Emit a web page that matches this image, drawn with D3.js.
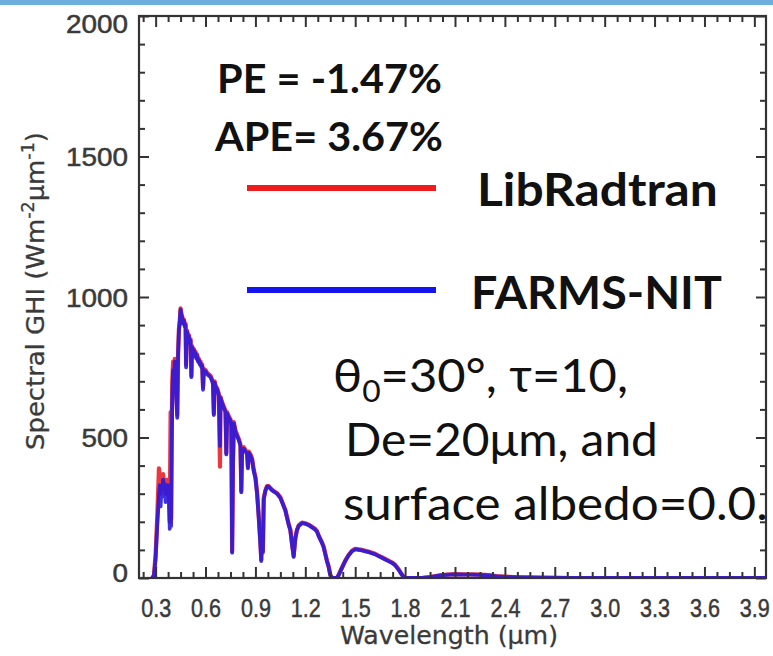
<!DOCTYPE html>
<html>
<head>
<meta charset="utf-8">
<script src="https://cdn.jsdelivr.net/npm/d3@7"></script>
<style>
  html, body { margin: 0; padding: 0; background: #fff; overflow: hidden; }
  svg { display: block; }
</style>
</head>
<body>
<svg id="chart" width="773" height="656"></svg>
<script>
// Spectral GHI (W m^-2 um^-1) versus wavelength (um) for the two models
const wavelength = [
  0.28, 0.29, 0.30, 0.31, 0.32, 0.325, 0.33, 0.335, 0.34, 0.345, 0.35, 0.355, 0.36, 0.365, 0.37, 0.375, 0.38, 0.385, 0.39, 0.393, 0.397, 0.40,
  0.405, 0.41, 0.415, 0.42, 0.425, 0.43, 0.435, 0.44, 0.445, 0.45, 0.455, 0.46, 0.465, 0.47, 0.475, 0.48, 0.483, 0.486, 0.49, 0.495, 0.50, 0.505, 0.51, 0.515, 0.518, 0.52, 0.525, 0.53, 0.535, 0.54, 0.545, 0.55, 0.555, 0.56, 0.565, 0.57, 0.575, 0.58, 0.585, 0.59, 0.595, 0.60,
  0.61, 0.62, 0.63, 0.64, 0.645, 0.65, 0.655, 0.66, 0.67, 0.68, 0.687, 0.69, 0.70, 0.71, 0.72, 0.725, 0.73, 0.74, 0.75, 0.755, 0.76, 0.765, 0.77, 0.78, 0.79, 0.80, 0.81, 0.815, 0.82, 0.83, 0.84, 0.85, 0.855, 0.86, 0.87, 0.88, 0.89, 0.90,
  0.91, 0.92, 0.93, 0.935, 0.94, 0.945, 0.95, 0.96, 0.97, 0.98, 0.99, 1.00, 1.01, 1.03, 1.05, 1.07, 1.08, 1.09, 1.10, 1.11, 1.12, 1.13, 1.14, 1.15, 1.16, 1.18, 1.20, 1.22, 1.24, 1.26, 1.27, 1.28, 1.30, 1.31, 1.32, 1.33, 1.34, 1.35, 1.36, 1.38,
  1.39, 1.40, 1.42, 1.44, 1.46, 1.48, 1.50, 1.52, 1.54, 1.56, 1.58, 1.60, 1.62, 1.64, 1.66, 1.68, 1.70, 1.72, 1.74, 1.76, 1.78, 1.79, 1.80, 1.85, 1.90, 1.95, 2.00, 2.05, 2.10, 2.15, 2.20, 2.25, 2.30, 2.35, 2.40, 2.45, 2.50, 2.60, 2.80, 3.00, 3.20, 3.40, 3.60, 3.80, 4.00
];

const libRadtran = [
  0, 10, 85, 220, 390, 360, 300, 340, 330, 370, 320, 350, 300, 340, 330, 350, 310, 200, 590, 210, 560, 700,
  770, 720, 780, 740, 650, 580, 800, 885, 915, 960, 940, 930, 910, 920, 900, 905, 760, 865, 880, 855, 865, 840, 850, 720, 805, 825, 805, 815, 795, 805, 785, 795, 775, 780, 765, 770, 755, 760, 680, 745, 735, 740,
  730, 725, 720, 705, 695, 585, 700, 685, 675, 655, 396, 645, 625, 610, 595, 445, 590, 575, 565, 545, 95, 410, 555, 525, 510, 495, 475, 310, 460, 465, 455, 445, 395, 450, 440, 425, 385, 360,
  305, 220, 125, 65, 155, 95, 285, 312, 327, 327, 320, 314, 310, 302, 287, 257, 242, 217, 192, 172, 122, 78, 142, 172, 187, 197, 195, 190, 182, 174, 167, 152, 127, 112, 87, 62, 42, 12, 0, 0,
  0, 11, 37, 62, 82, 97, 104, 102, 100, 97, 94, 90, 86, 80, 74, 68, 62, 56, 47, 32, 13, 5, 0, 0, 0, 3, 9, 12, 14, 13, 13, 12, 10, 7, 5, 3, 2, 1, 0, 0, 0, 0, 0, 0, 0
];

const farmsNit = [
  0, 8, 70, 190, 290, 330, 255, 320, 300, 350, 290, 335, 270, 320, 300, 330, 280, 175, 330, 185, 480, 630,
  740, 700, 770, 730, 640, 570, 790, 880, 910, 955, 935, 925, 905, 915, 895, 900, 750, 860, 875, 850, 860, 835, 845, 715, 800, 820, 800, 810, 790, 800, 780, 790, 770, 775, 760, 765, 750, 755, 670, 740, 730, 735,
  725, 720, 715, 700, 690, 580, 695, 680, 670, 650, 470, 640, 620, 605, 590, 440, 585, 570, 560, 540, 90, 400, 550, 520, 505, 490, 470, 305, 455, 460, 450, 440, 390, 445, 435, 420, 380, 355,
  300, 215, 120, 60, 150, 90, 280, 310, 325, 325, 318, 312, 308, 300, 285, 255, 240, 215, 190, 170, 120, 75, 140, 170, 185, 195, 193, 188, 180, 172, 165, 150, 125, 110, 85, 60, 40, 10, 0, 0,
  0, 10, 35, 60, 80, 95, 102, 100, 98, 95, 92, 88, 84, 78, 72, 66, 60, 54, 45, 30, 12, 4, 0, 0, 0, 3, 8, 11, 13, 12, 12, 11, 9, 6, 4, 3, 2, 1, 0, 0, 0, 0, 0, 0, 0
];

const xTickValues = [0.3, 0.6, 0.9, 1.2, 1.5, 1.8, 2.1, 2.4, 2.7, 3.0, 3.3, 3.6, 3.9];
const xTickLabels = ["0.3", "0.6", "0.9", "1.2", "1.5", "1.8", "2.1", "2.4", "2.7", "3.0", "3.3", "3.6", "3.9"];
const yTickValues = [0, 500, 1000, 1500, 2000];
const yTickLabels = ["0", "500", "1000", "1500", "2000"];

const seriesNames = ["LibRadtran", "FARMS-NIT"];
const seriesColors = ["#ee1c1c", "#1414f0"];
const curveColors = ["#e8222a", "#2a1ae0"];
const statLines = ["PE = -1.47%", "APE= 3.67%"];

// ---------------------------------------------------------------------------
const svg = d3.select("#chart");
const W = 773, H = 656;
const plot = { left: 139, top: 16, right: 766, bottom: 578 };

svg.append("rect").attr("width", W).attr("height", H).attr("fill", "#fff");
// thin accent band along the top edge
svg.append("rect").attr("x", 0).attr("y", 0).attr("width", W).attr("height", 5).attr("fill", "#6cafdc");

const x = d3.scaleLinear().domain([0.2, 3.97]).range([plot.left, plot.right]);
const y = d3.scaleLinear().domain([0, 2000]).range([plot.bottom, plot.top]);

// horizontal stretch so that a text's advance width equals a target
function stretch(textSel, width) {
  const w = textSel.node().getComputedTextLength();
  return w > 0 ? width / w : 1;
}

// ---- curves ---------------------------------------------------------------
svg.append("clipPath").attr("id", "plotClip")
  .append("rect")
  .attr("x", plot.left).attr("y", plot.top)
  .attr("width", plot.right - plot.left).attr("height", plot.bottom - plot.top);

const line = d3.line()
  .x((d, i) => x(wavelength[i]))
  .y(d => y(d));

const curves = svg.append("g").attr("clip-path", "url(#plotClip)");
[libRadtran, farmsNit].forEach((vals, k) => {
  curves.append("path")
    .datum(vals)
    .attr("d", line)
    .attr("fill", "none")
    .attr("stroke", curveColors[k])
    .attr("stroke-width", k === 0 ? 4.2 : 3.8)
    .attr("stroke-linejoin", "round")
    .attr("stroke-linecap", "round")
    .attr("opacity", 0.9);
});

// ---- axes (ticks pointing inward on all four sides) -------------------------
const xMinor = d3.range(0.225, 3.97, 0.075).filter(v => Math.abs(v / 0.3 - Math.round(v / 0.3)) > 1e-6);
const yMinor = d3.range(100, 2000, 100).filter(v => v % 500 !== 0);
const axisColor = "#333";

function styleAxis(g) {
  g.select(".domain").remove();
  g.selectAll("line").attr("stroke", axisColor).attr("stroke-width", 2);
}

// bottom
svg.append("g").attr("transform", `translate(0,${plot.bottom})`)
  .call(d3.axisBottom(x).tickValues(xMinor).tickSize(-6).tickFormat(""))
  .call(styleAxis);
const xAxisG = svg.append("g").attr("transform", `translate(0,${plot.bottom})`)
  .call(d3.axisBottom(x).tickValues(xTickValues).tickSize(-11)
    .tickFormat((d, i) => xTickLabels[i]))
  .call(styleAxis);
// top
svg.append("g").attr("transform", `translate(0,${plot.top})`)
  .call(d3.axisTop(x).tickValues(xMinor).tickSize(-6).tickFormat(""))
  .call(styleAxis);
svg.append("g").attr("transform", `translate(0,${plot.top})`)
  .call(d3.axisTop(x).tickValues(xTickValues).tickSize(-11).tickFormat(""))
  .call(styleAxis);
// left
svg.append("g").attr("transform", `translate(${plot.left},0)`)
  .call(d3.axisLeft(y).tickValues(yMinor).tickSize(-6).tickFormat(""))
  .call(styleAxis);
const yAxisG = svg.append("g").attr("transform", `translate(${plot.left},0)`)
  .call(d3.axisLeft(y).tickValues(yTickValues).tickSize(-10)
    .tickFormat((d, i) => yTickLabels[i]))
  .call(styleAxis);
// right
svg.append("g").attr("transform", `translate(${plot.right},0)`)
  .call(d3.axisRight(y).tickValues(yMinor).tickSize(-6).tickFormat(""))
  .call(styleAxis);
svg.append("g").attr("transform", `translate(${plot.right},0)`)
  .call(d3.axisRight(y).tickValues(yTickValues).tickSize(-10).tickFormat(""))
  .call(styleAxis);

// frame
svg.append("rect")
  .attr("x", plot.left).attr("y", plot.top)
  .attr("width", plot.right - plot.left).attr("height", plot.bottom - plot.top)
  .attr("fill", "none").attr("stroke", axisColor).attr("stroke-width", 2.2);

// tick label styling
const tickFont = "'Liberation Sans', Arial, sans-serif";
const xLabels = xAxisG.selectAll(".tick text")
  .style("font-family", tickFont).style("font-size", "26px")
  .attr("fill", "#3a3a3a").attr("stroke", "#3a3a3a").attr("stroke-width", 0.5)
  .attr("dy", null).attr("y", 39)
  .attr("text-anchor", "middle");
const xs = stretch(xAxisG.select(".tick text"), 30);
xLabels.attr("transform", `scale(${xs},1)`);

const yLabels = yAxisG.selectAll(".tick text")
  .style("font-family", tickFont).style("font-size", "25px")
  .attr("fill", "#3a3a3a").attr("stroke", "#3a3a3a").attr("stroke-width", 0.5)
  .attr("dy", null).attr("x", 0).attr("y", 0)
  .attr("text-anchor", "end");
const widest = yAxisG.selectAll(".tick text").filter((d) => d === 2000);
const ys = stretch(widest, 62);
yLabels.attr("transform", d => {
  const nudge = d === 2000 ? 7 : (d === 0 ? -6 : 0);
  return `translate(-11,${9 + nudge}) scale(${ys},1)`;
});

// axis titles
const titleFont = "'DejaVu Sans', sans-serif";
const xTitle = svg.append("text")
  .style("font-family", titleFont).style("font-size", "25px").attr("fill", "#3a3a3a")
  .attr("stroke", "#3a3a3a").attr("stroke-width", 0.3)
  .attr("text-anchor", "middle")
  .text("Wavelength (\u03BCm)");
xTitle.attr("transform", `translate(449,644) scale(${stretch(xTitle, 218)},1)`);

const yTitle = svg.append("text")
  .style("font-family", titleFont).style("font-size", "25px").attr("fill", "#3a3a3a")
  .attr("stroke", "#3a3a3a").attr("stroke-width", 0.3)
  .attr("text-anchor", "middle");
yTitle.append("tspan").text("Spectral GHI (Wm");
yTitle.append("tspan").style("font-size", "17px").attr("dy", -10).text("-2");
yTitle.append("tspan").attr("dy", 10).text("\u03BCm");
yTitle.append("tspan").style("font-size", "17px").attr("dy", -10).text("-1");
yTitle.append("tspan").attr("dy", 10).text(")");
yTitle.attr("transform", `translate(44,291) rotate(-90) scale(${stretch(yTitle, 318)},1)`);

// ---- annotations ----------------------------------------------------------
const noteFont = "Lato, 'Open Sans', sans-serif";
function note(txt, left, baseline, width, size, weight) {
  const t = svg.append("text")
    .style("font-family", noteFont).style("font-size", size + "px")
    .style("font-weight", weight).attr("fill", "#111")
    .text(txt);
  t.attr("transform", `translate(${left},${baseline}) scale(${stretch(t, width)},1)`);
  return t;
}
note(statLines[0], 217, 93, 225, 40, 700);
note(statLines[1], 215, 151, 228, 40, 700);

// legend
const legendY = [188, 290];
const legendText = [{ left: 477, base: 206, w: 241 }, { left: 471, base: 309, w: 251 }];
seriesNames.forEach((name, k) => {
  svg.append("line")
    .attr("x1", 247).attr("x2", 436)
    .attr("y1", legendY[k]).attr("y2", legendY[k])
    .attr("stroke", seriesColors[k]).attr("stroke-width", 6);
  note(name, legendText[k].left, legendText[k].base, legendText[k].w, 46, 700);
});

// case description
const cond = svg.append("text")
  .style("font-family", noteFont).style("font-size", "46px").attr("fill", "#111");
cond.append("tspan").text("\u03B8");
cond.append("tspan").style("font-size", "30px").attr("dy", 10).text("0");
cond.append("tspan").attr("dy", -10).text("=30\u00B0, \u03C4=10,");
cond.attr("transform", `translate(333,392) scale(${stretch(cond, 295)},1)`);

note("De=20\u03BCm, and", 345, 456, 313, 46, 400);
note("surface albedo=0.0.", 343, 520, 425, 46, 400);
</script>
</body>
</html>
